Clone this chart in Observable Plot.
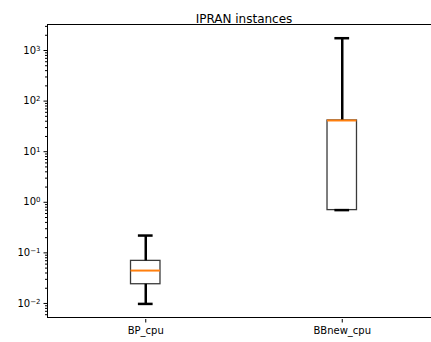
<!DOCTYPE html>
<html>
<head>
<meta charset="utf-8">
<script src="https://cdn.jsdelivr.net/npm/d3@7"></script>
<script src="https://cdn.jsdelivr.net/npm/@observablehq/plot@0.6"></script>
<style>
  html, body { margin: 0; padding: 0; background: #fff; overflow: hidden; }
  svg { overflow: hidden; display: block; }
</style>
</head>
<body>
<div id="chart"></div>
<script>
const title = "IPRAN instances";
const categories = ["BP_cpu", "BBnew_cpu"];
const whiskerLow = [0.0098, 0.70];
const q1 = [0.024, 0.70];
const median = [0.0447, 41.4];
const q3 = [0.0695, 41.4];
const whiskerHigh = [0.22, 1750];
const majorTicks = [1e-2, 1e-1, 1e0, 1e1, 1e2, 1e3];
const majorExponents = ["−2", "−1", "0", "1", "2", "3"];
const yDomain = [0.00528, 3266];
const xDomain = [0.5, 2.5];

const data = categories.map((c, i) => ({
  cat: c, pos: i + 1,
  lo: whiskerLow[i], q1: q1[i], med: median[i], q3: q3[i], hi: whiskerHigh[i]
}));

const minorTicks = [];
for (let e = -3; e <= 3; e++) {
  for (let m = 2; m <= 9; m++) {
    const v = m * Math.pow(10, e);
    if (v >= yDomain[0] && v <= yDomain[1]) minorTicks.push(v);
  }
}

const boxHalf = 0.075, capHalf = 0.0375;

const chart = Plot.plot({
  width: 431,
  height: 342,
  marginLeft: 47,
  marginRight: 0,
  marginTop: 24,
  marginBottom: 25,
  style: { fontFamily: "DejaVu Sans", fontSize: "10px", color: "#000", background: "#fff" },
  x: { type: "linear", domain: xDomain, range: [47, 440], axis: null },
  y: { type: "log", domain: yDomain, axis: null },
  marks: [
    Plot.rect(data, {
      x1: d => d.pos - boxHalf, x2: d => d.pos + boxHalf,
      y1: "q1", y2: "q3", fill: "white", stroke: "#3a3a3a", strokeWidth: 1.3
    }),
    Plot.ruleX(data, { x: "pos", y1: "q3", y2: "hi", stroke: "black", strokeWidth: 2.5 }),
    Plot.ruleX(data, { x: "pos", y1: "lo", y2: "q1", stroke: "black", strokeWidth: 2.5 }),
    Plot.ruleY(data, { y: "hi", x1: d => d.pos - capHalf, x2: d => d.pos + capHalf, stroke: "black", strokeWidth: 2.5 }),
    Plot.ruleY(data, { y: "lo", x1: d => d.pos - capHalf, x2: d => d.pos + capHalf, stroke: "black", strokeWidth: 2.5 }),
    Plot.ruleY(data, { y: "med", x1: d => d.pos - boxHalf, x2: d => d.pos + boxHalf, stroke: "#ff7f0e", strokeWidth: 2 }),
    // spines (the right spine lies beyond the picture's edge)
    Plot.ruleY(yDomain, { y: d => d, x1: xDomain[0], x2: xDomain[1], stroke: "black", strokeWidth: 1 }),
    Plot.ruleX([xDomain[0]], { x: d => d, y1: yDomain[0], y2: yDomain[1], stroke: "black", strokeWidth: 1 }),
    Plot.axisY({ ticks: minorTicks, tickSize: 2, tickFormat: () => "", stroke: "black" }),
    Plot.axisY({
      ticks: majorTicks, tickSize: 3.5, tickPadding: 3.5,
      tickFormat: d => "10^" + majorExponents[majorTicks.indexOf(d)], fill: "#000", stroke: "black", fontSize: 10
    }),
    Plot.axisX({
      ticks: categories.map((c, i) => i + 1), tickSize: 3.5, tickPadding: 3.5,
      tickFormat: d => categories[d - 1], label: null, fill: "#000", stroke: "black", fontSize: 10, dy: 2
    }),
    Plot.text([title], { x: (xDomain[0] + xDomain[1]) / 2, frameAnchor: "top", dy: -10, fontSize: 12, fill: "#000" })
  ]
});
// superscript exponents like matplotlib mathtext
const svgns = "http://www.w3.org/2000/svg";
chart.querySelectorAll("text").forEach(t => {
  const m = t.textContent.match(/^10\^(.+)$/);
  if (m) {
    t.textContent = "10";
    const ts = document.createElementNS(svgns, "tspan");
    ts.setAttribute("dy", "-0.45em");
    ts.setAttribute("font-size", "7px");
    ts.textContent = m[1];
    t.appendChild(ts);
  }
});
document.getElementById("chart").appendChild(chart);
</script>
</body>
</html>
